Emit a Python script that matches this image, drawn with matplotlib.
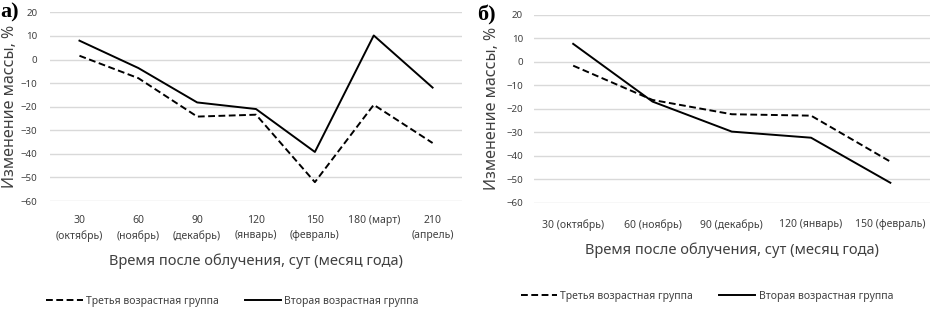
import matplotlib
matplotlib.use("Agg")
import matplotlib.pyplot as plt
from matplotlib.lines import Line2D

# ---- данные ----
cats_a = ["30\n(октябрь)", "60\n(ноябрь)", "90\n(декабрь)", "120\n(январь)",
          "150\n(февраль)", "180 (март)", "210\n(апрель)"]
third_a = [1.6, -7.9, -24.2, -23.4, -52.0, -19.2, -35.4]
second_a = [8.0, -3.6, -18.2, -21.0, -39.2, 10.2, -11.9]

cats_b = ["30 (октябрь)", "60 (ноябрь)", "90 (декабрь)", "120 (январь)", "150 (февраль)"]
third_b = [-1.6, -16.2, -22.3, -22.9, -42.5]
second_b = [7.7, -16.9, -29.7, -32.3, -51.5]

yticks = [20, 10, 0, -10, -20, -30, -40, -50, -60]
ylabel = "Изменение массы, %"
xlabel = "Время после облучения, сут (месяц года)"
lbl_third = "Третья возрастная группа"
lbl_second = "Вторая возрастная группа"

plt.rcParams["font.family"] = ["Noto Sans", "DejaVu Sans"]
TXT = "#404040"
GRID = "#d9d9d9"

fig = plt.figure(figsize=(9.3, 3.09), dpi=100)
ax_a = fig.add_axes([0.0538, 0.3495, 0.443, 0.6105])
ax_b = fig.add_axes([0.5737, 0.344, 0.4263, 0.6075])


def style(ax, cats, third, second, tick_pad, ypad, ylab_x):
    x = range(len(cats))
    ax.plot(x, third, color="black", lw=1.4, ls=(0, (3.5, 1.8)))
    ax.plot(x, second, color="black", lw=1.4)
    ax.set_xlim(-0.5, len(cats) - 0.5)
    ax.set_ylim(-60, 20)
    ax.set_yticks(yticks)
    ax.set_xticks(list(x))
    ax.set_xticklabels(cats, fontsize=7.5, color=TXT, linespacing=1.5)
    ax.tick_params(axis="y", labelsize=7, labelcolor=TXT, length=0, pad=ypad)
    ax.tick_params(axis="x", length=0, pad=tick_pad)
    ax.grid(axis="y", color=GRID, lw=1)
    ax.set_axisbelow(True)
    for s in ax.spines.values():
        s.set_visible(False)
    ax.set_ylabel(ylabel, fontsize=11.5, color=TXT)
    ax.yaxis.set_label_coords(ylab_x, 0.5)


style(ax_a, cats_a, third_a, second_a, 10, 9, -0.077)
style(ax_b, cats_b, third_b, second_b, 12, 7.5, -0.085)
ax_a.set_xlabel(xlabel, fontsize=10.5, color=TXT, labelpad=8)
ax_b.set_xlabel(xlabel, fontsize=10.5, color=TXT, labelpad=8)

fig.text(0.0, 0.96, "а)", fontsize=16, fontweight="bold", family="Liberation Serif",
         va="center", ha="left")
fig.text(0.513, 0.95, "б)", fontsize=16, fontweight="bold", family="Liberation Serif",
         va="center", ha="left")

handles = [Line2D([], [], color="black", lw=1.4, ls=(0, (3.5, 1.8))),
           Line2D([], [], color="black", lw=1.4)]
for cx, cy in [(0.25, 0.025), (0.76, 0.04)]:
    leg = fig.legend(handles, [lbl_third, lbl_second], loc="center", bbox_to_anchor=(cx, cy),
                     ncol=2, frameon=False, fontsize=7.5, handlelength=3.5,
                     handletextpad=0.3, columnspacing=2.5)
    for t in leg.get_texts():
        t.set_color(TXT)

fig.savefig("out.png", dpi=100)
